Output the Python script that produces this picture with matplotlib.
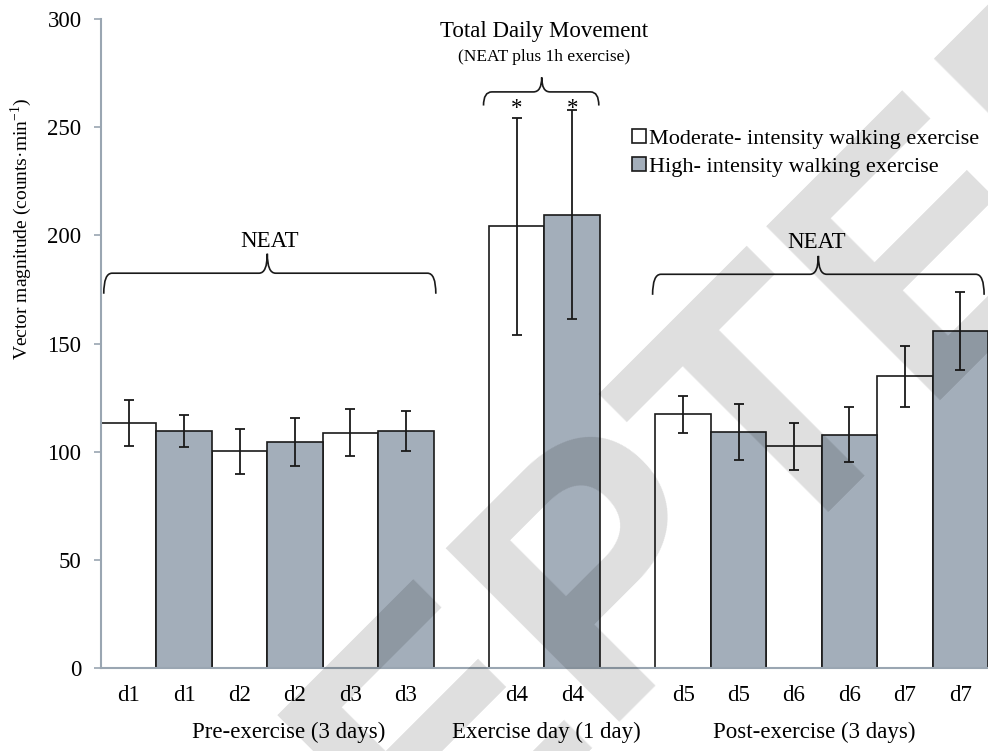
import matplotlib
matplotlib.use('Agg')
import matplotlib.pyplot as plt
from matplotlib.path import Path
from matplotlib.patches import PathPatch, Patch

plt.rcParams['font.family'] = ['Liberation Serif', 'DejaVu Serif']
plt.rcParams['mathtext.fontset'] = 'custom'
plt.rcParams['mathtext.rm'] = 'Liberation Serif'

# data
days = ['d1', 'd2', 'd3', 'd4', 'd5', 'd6', 'd7']
moderate_mean = [113.2, 100.1, 108.8, 204.1, 117.3, 102.4, 134.8]
moderate_err = [10.5, 10.3, 11.0, 50.0, 8.6, 10.9, 14.2]
high_mean = [109.6, 104.5, 109.7, 209.5, 109.1, 107.8, 155.9]
high_err = [7.3, 11.2, 9.3, 48.3, 13.0, 12.8, 18.0]
period_gap = [0, 0, 0, 1, 2, 2, 2]
periods = ['Pre-exercise (3 days)', 'Exercise day (1 day)', 'Post-exercise (3 days)']
legend_labels = ['Moderate- intensity walking exercise', 'High- intensity walking exercise']

gray = '#a3aeba'
dark = '#1a1a1a'
spine = '#9aa6b2'

fig = plt.figure(figsize=(9.88, 7.51), dpi=100)
ax = fig.add_axes([0.1022, 0.1105, 0.8978, 0.8642])

x_mod = [2 * i + g for i, g in enumerate(period_gap)]
x_high = [x + 1 for x in x_mod]

ax.bar(x_mod, moderate_mean, width=1.0, color='white', edgecolor=dark, linewidth=1.2, zorder=2)
ax.bar(x_high, high_mean, width=1.0, color=gray, edgecolor=dark, linewidth=1.2, zorder=2)
ax.errorbar(x_mod, moderate_mean, yerr=moderate_err, fmt='none', ecolor=dark,
            elinewidth=1.3, capsize=3.5, capthick=1.3, zorder=3)
ax.errorbar(x_high, high_mean, yerr=high_err, fmt='none', ecolor=dark,
            elinewidth=1.3, capsize=3.5, capthick=1.3, zorder=3)

ax.set_xlim(-0.5, 15.5)
ax.set_ylim(0, 300)
ax.set_yticks(range(0, 301, 50))
lab = {}
for i in range(len(days)):
    lab[x_mod[i]] = days[i]
    lab[x_high[i]] = days[i]
ticks = sorted(lab)
ax.set_xticks(ticks)
ax.set_xticklabels([lab[t] for t in ticks])

for s in ['top', 'right']:
    ax.spines[s].set_visible(False)
for s in ['left', 'bottom']:
    ax.spines[s].set_color(spine)
    ax.spines[s].set_linewidth(1.5)
ax.tick_params(axis='y', length=5, color=spine, width=1.2, pad=9, labelsize=16.5)
ax.tick_params(axis='x', length=0, pad=12, labelsize=16.5)

ax.set_ylabel(r'Vector magnitude (counts·min$^{-1}$)', fontsize=14)
ax.yaxis.set_label_coords(-0.075, 0.676)

# period labels under the day labels
period_x = [2.89, 7.54, 12.36]
for px, name in zip(period_x, periods):
    ax.text(px, -0.099, name, transform=ax.get_xaxis_transform(),
            ha='center', va='center', fontsize=16.5)


def brace(x0, x1, xm, y_end, y_line, y_tip, r=0.15):
    verts = [(x0, y_end), (x0, y_line), (x0 + r, y_line),
             (xm - r, y_line), (xm, y_line), (xm, y_tip),
             (xm, y_tip), (xm, y_line), (xm + r, y_line),
             (x1 - r, y_line), (x1, y_line), (x1, y_end)]
    codes = [Path.MOVETO, Path.CURVE3, Path.CURVE3,
             Path.LINETO, Path.CURVE3, Path.CURVE3,
             Path.MOVETO, Path.CURVE3, Path.CURVE3,
             Path.LINETO, Path.CURVE3, Path.CURVE3]
    ax.add_patch(PathPatch(Path(verts, codes), fill=False, edgecolor=dark,
                           linewidth=1.2, clip_on=False, zorder=4))


brace(-0.45, 5.54, 2.5, 173.0, 182.5, 191.5)
brace(9.45, 15.43, 12.44, 172.5, 182.0, 190.5)
brace(6.40, 8.48, 7.45, 260.0, 266.3, 273.0)

ax.text(2.55, 197, 'NEAT', ha='center', va='center', fontsize=16.5)
ax.text(12.40, 196.5, 'NEAT', ha='center', va='center', fontsize=16.5)
ax.text(7.5, 294, 'Total Daily Movement', ha='center', va='center', fontsize=16.5)
ax.text(7.5, 282.5, '(NEAT plus 1h exercise)', ha='center', va='center', fontsize=12.5)
for xs in [x_mod[3], x_high[3]]:
    ax.text(xs, 258.5, '*', ha='center', va='center', fontsize=16.5)

handles = [Patch(facecolor='white', edgecolor=dark, linewidth=1.2),
           Patch(facecolor=gray, edgecolor=dark, linewidth=1.2)]
ax.legend(handles, legend_labels, loc='upper left', bbox_to_anchor=(0.599, 0.83),
          frameon=False, fontsize=16, handlelength=0.6, handleheight=0.6,
          handletextpad=0.15, labelspacing=0.36, borderpad=0, borderaxespad=0)

# watermark across the figure
fig.text(0.52, 0.085, 'ACCEPTED', rotation=45, fontsize=256, fontweight='bold',
         family='Liberation Sans', color='black', alpha=0.13,
         ha='center', va='center', rotation_mode='anchor', zorder=10)

fig.savefig('out.png', dpi=100)
